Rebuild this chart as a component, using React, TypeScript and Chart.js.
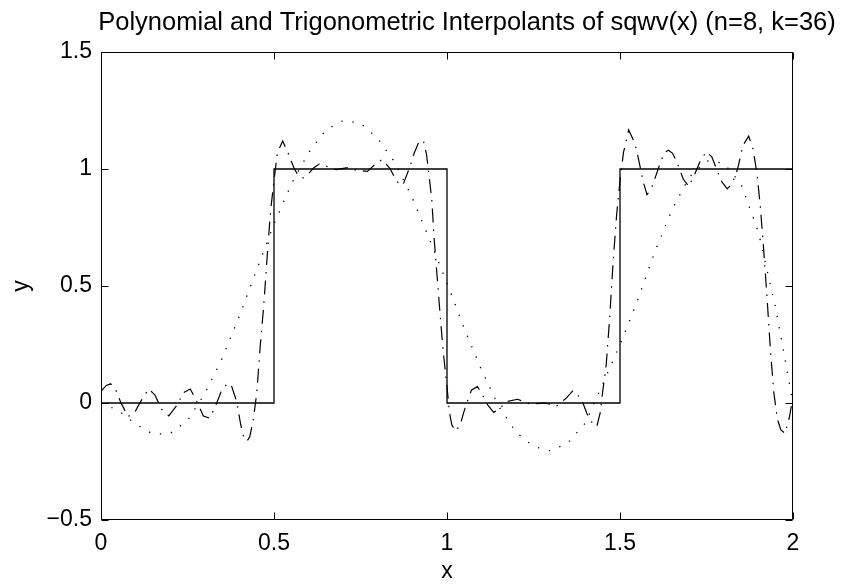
import React, { useEffect, useRef } from 'react';
import { Chart, registerables } from 'chart.js';

Chart.register(...registerables);

const TITLE = 'Polynomial and Trigonometric Interpolants of sqwv(x) (n=8, k=36)';
const X_LABEL = 'x';
const Y_LABEL = 'y';
const X_TICKS = [0, 0.5, 1, 1.5, 2];
const Y_TICKS = [-0.5, 0, 0.5, 1, 1.5];

// square wave sqwv(x)
const sqwvX = [0, 0.5, 0.5, 1, 1, 1.5, 1.5, 2, 2];
const sqwvY = [0, 0, 1, 1, 0, 0, 1, 1, 0.5];

// polynomial interpolant (dotted)
const polyX = [0, 0.05, 0.1, 0.15, 0.2, 0.25, 0.3, 0.35, 0.4, 0.45, 0.5, 0.55, 0.6, 0.65, 0.7, 0.75, 0.8, 0.85, 0.9, 0.95, 1.0,
  1.05, 1.1, 1.15, 1.2, 1.25, 1.3, 1.35, 1.4, 1.45, 1.5, 1.55, 1.6, 1.65, 1.7, 1.75, 1.8, 1.85, 1.9, 1.95, 2.0];
const polyY = [0, -0.032, -0.09, -0.133, -0.13, -0.075, 0.04, 0.19, 0.372, 0.569, 0.765, 0.935, 1.07, 1.167, 1.207, 1.196, 1.13, 1.027, 0.876, 0.697, 0.513,
  0.318, 0.14, -0.015, -0.126, -0.185, -0.205, -0.17, -0.085, 0.08, 0.25, 0.435, 0.644, 0.825, 0.965, 1.035, 1.025, 0.935, 0.73, 0.405, 0.0];

// trigonometric interpolant (dash-dot)
const trigX = [0, 0.015, 0.028, 0.042, 0.058, 0.078, 0.096, 0.116, 0.138, 0.156, 0.175, 0.196, 0.22, 0.238, 0.258, 0.277, 0.296, 0.314,
  0.331, 0.347, 0.366, 0.378, 0.392, 0.404, 0.413, 0.422, 0.43, 0.44, 0.45, 0.46, 0.47, 0.48, 0.49, 0.5, 0.51, 0.525, 0.541, 0.558,
  0.572, 0.585, 0.599, 0.615, 0.631, 0.648, 0.662, 0.68, 0.696, 0.715, 0.739, 0.77, 0.795, 0.812, 0.835, 0.855, 0.872, 0.893, 0.905,
  0.92, 0.932, 0.941, 0.949, 0.956, 0.963, 0.97, 0.98, 0.989, 1.0, 1.007, 1.014, 1.025, 1.038, 1.049, 1.06, 1.071, 1.088, 1.103,
  1.118, 1.135, 1.155, 1.171, 1.204, 1.24, 1.283, 1.317, 1.344, 1.364, 1.377, 1.394, 1.404, 1.423, 1.433, 1.443, 1.45, 1.46, 1.47,
  1.48, 1.49, 1.5, 1.51, 1.525, 1.543, 1.551, 1.56, 1.567, 1.578, 1.59, 1.601, 1.616, 1.628, 1.64, 1.652, 1.666, 1.683, 1.699, 1.715,
  1.731, 1.749, 1.765, 1.781, 1.794, 1.81, 1.825, 1.84, 1.855, 1.872, 1.884, 1.895, 1.905, 1.915, 1.925, 1.935, 1.945, 1.955, 1.965,
  1.977, 1.99, 2.0];
const trigY = [0.05, 0.075, 0.082, 0.058, 0.0, -0.058, -0.044, 0.01, 0.06, 0.034, -0.027, -0.055, -0.009, 0.044, 0.06, 0.006, -0.056, -0.065,
  -0.013, 0.048, 0.085, 0.07, 0.006, -0.094, -0.15, -0.163, -0.144, -0.073, 0.04, 0.24, 0.41, 0.62, 0.82, 0.95, 1.07, 1.12, 1.067, 1.003,
  0.968, 0.962, 0.979, 1.005, 1.021, 1.015, 1.003, 0.997, 1.002, 1.006, 0.994, 0.99, 1.024, 1.04, 1.003, 0.946, 0.93, 1.01, 1.067,
  1.12, 1.12, 1.06, 0.96, 0.87, 0.7, 0.568, 0.38, 0.22, 0.07, -0.04, -0.094, -0.12, -0.094, -0.037, 0.013, 0.056, 0.07, 0.034,
  -0.009, -0.04, -0.02, 0.006, 0.016, -0.004, 0.0, -0.013, 0.02, 0.053, 0.038, -0.004, -0.044, -0.094, -0.1, -0.04, 0.05, 0.16, 0.36,
  0.6, 0.8, 0.95, 1.07, 1.167, 1.11, 1.06, 0.996, 0.946, 0.89, 0.915, 0.96, 1.024, 1.07, 1.08, 1.067, 1.024, 0.956, 0.925, 0.974,
  1.031, 1.074, 1.053, 0.993, 0.946, 0.915, 0.94, 1.0, 1.1, 1.14, 1.088, 0.99, 0.85, 0.66, 0.45, 0.22, 0.04, -0.07, -0.115,
  -0.13, -0.058, 0.03];

const FONT = '"Liberation Sans", Arial, Helvetica, sans-serif';

const toPoints = (xs: number[], ys: number[]) => xs.map((x, i) => ({ x, y: ys[i] }));
const fmt = (v: number) => String(v).replace('-', '\u2212');

const framePlugin = {
  id: 'matlabFrame',
  afterDraw(chart: any) {
    const { ctx, chartArea, scales } = chart;
    const left = Math.round(chartArea.left) + 0.5;
    const right = Math.round(chartArea.right) - 0.5;
    const top = Math.round(chartArea.top) + 0.5;
    const bottom = Math.round(chartArea.bottom) - 0.5;
    const TL = 7;
    ctx.save();
    ctx.strokeStyle = '#000';
    ctx.lineWidth = 1;
    ctx.beginPath();
    ctx.moveTo(left, top);
    ctx.lineTo(right, top);
    ctx.lineTo(right, bottom);
    ctx.lineTo(left, bottom);
    ctx.closePath();
    for (const v of X_TICKS) {
      const px = Math.round(scales.x.getPixelForValue(v)) + 0.5;
      ctx.moveTo(px, bottom);
      ctx.lineTo(px, bottom - TL);
      ctx.moveTo(px, top);
      ctx.lineTo(px, top + TL);
    }
    for (const v of Y_TICKS) {
      const py = Math.round(scales.y.getPixelForValue(v)) + 0.5;
      ctx.moveTo(left, py);
      ctx.lineTo(left + TL, py);
      ctx.moveTo(right, py);
      ctx.lineTo(right - TL, py);
    }
    ctx.stroke();
    ctx.fillStyle = '#000';
    ctx.font = `25.5px ${FONT}`;
    ctx.textAlign = 'center';
    ctx.textBaseline = 'middle';
    ctx.fillText(TITLE, 467, 23);
    ctx.restore();
  },
};

export default function App() {
  const canvasRef = useRef<HTMLCanvasElement | null>(null);

  useEffect(() => {
    const canvas = canvasRef.current;
    if (!canvas) return;
    const chart = new Chart(canvas, {
      type: 'line',
      data: {
        datasets: [
          {
            label: 'sqwv',
            data: toPoints(sqwvX, sqwvY),
            borderColor: '#000',
            borderWidth: 1.3,
            pointRadius: 0,
            tension: 0,
          },
          {
            label: 'poly',
            data: toPoints(polyX, polyY),
            borderColor: '#000',
            borderWidth: 1.3,
            borderDash: [1.3, 10],
            pointRadius: 0,
            tension: 0,
          },
          {
            label: 'trig',
            data: toPoints(trigX, trigY),
            borderColor: '#000',
            borderWidth: 1.2,
            borderDash: [14, 7, 1.5, 7],
            pointRadius: 0,
            tension: 0,
          },
        ],
      },
      options: {
        animation: false,
        responsive: true,
        maintainAspectRatio: false,
        events: [],
        layout: { padding: { left: 0, right: 49, top: 52, bottom: 0 } },
        plugins: {
          legend: { display: false },
          tooltip: { enabled: false },
          title: { display: false },
        },
        scales: {
          x: {
            type: 'linear',
            min: 0,
            max: 2,
            afterBuildTicks: (scale: any) => {
              scale.ticks = X_TICKS.map((v) => ({ value: v }));
            },
            afterFit: (scale: any) => {
              scale.height = 67;
            },
            grid: { display: false, drawTicks: false },
            border: { display: false },
            ticks: {
              color: '#000',
              padding: 10,
              maxRotation: 0,
              autoSkip: false,
              font: { family: FONT, size: 23, lineHeight: 1.2 },
              callback: (v: any) => fmt(Number(v)),
            },
            title: {
              display: true,
              text: X_LABEL,
              color: '#000',
              padding: { top: 0, bottom: 2 },
              font: { family: FONT, size: 23, lineHeight: 1.2 },
            },
          },
          y: {
            type: 'linear',
            min: -0.5,
            max: 1.5,
            afterBuildTicks: (scale: any) => {
              scale.ticks = Y_TICKS.map((v) => ({ value: v }));
            },
            afterFit: (scale: any) => {
              scale.width = 101;
            },
            grid: { display: false, drawTicks: false },
            border: { display: false },
            ticks: {
              color: '#000',
              padding: 9,
              autoSkip: false,
              font: { family: FONT, size: 23, lineHeight: 1.2 },
              callback: (v: any) => fmt(Number(v)),
            },
            title: {
              display: true,
              text: Y_LABEL,
              color: '#000',
              padding: { top: 8, bottom: 0 },
              font: { family: FONT, size: 23, lineHeight: 1.2 },
            },
          },
        },
      },
      plugins: [framePlugin],
    });
    return () => chart.destroy();
  }, []);

  return (
    <div style={{ position: 'fixed', left: 0, top: 0, width: 842, height: 587, background: '#fff' }}>
      <canvas ref={canvasRef} />
    </div>
  );
}
